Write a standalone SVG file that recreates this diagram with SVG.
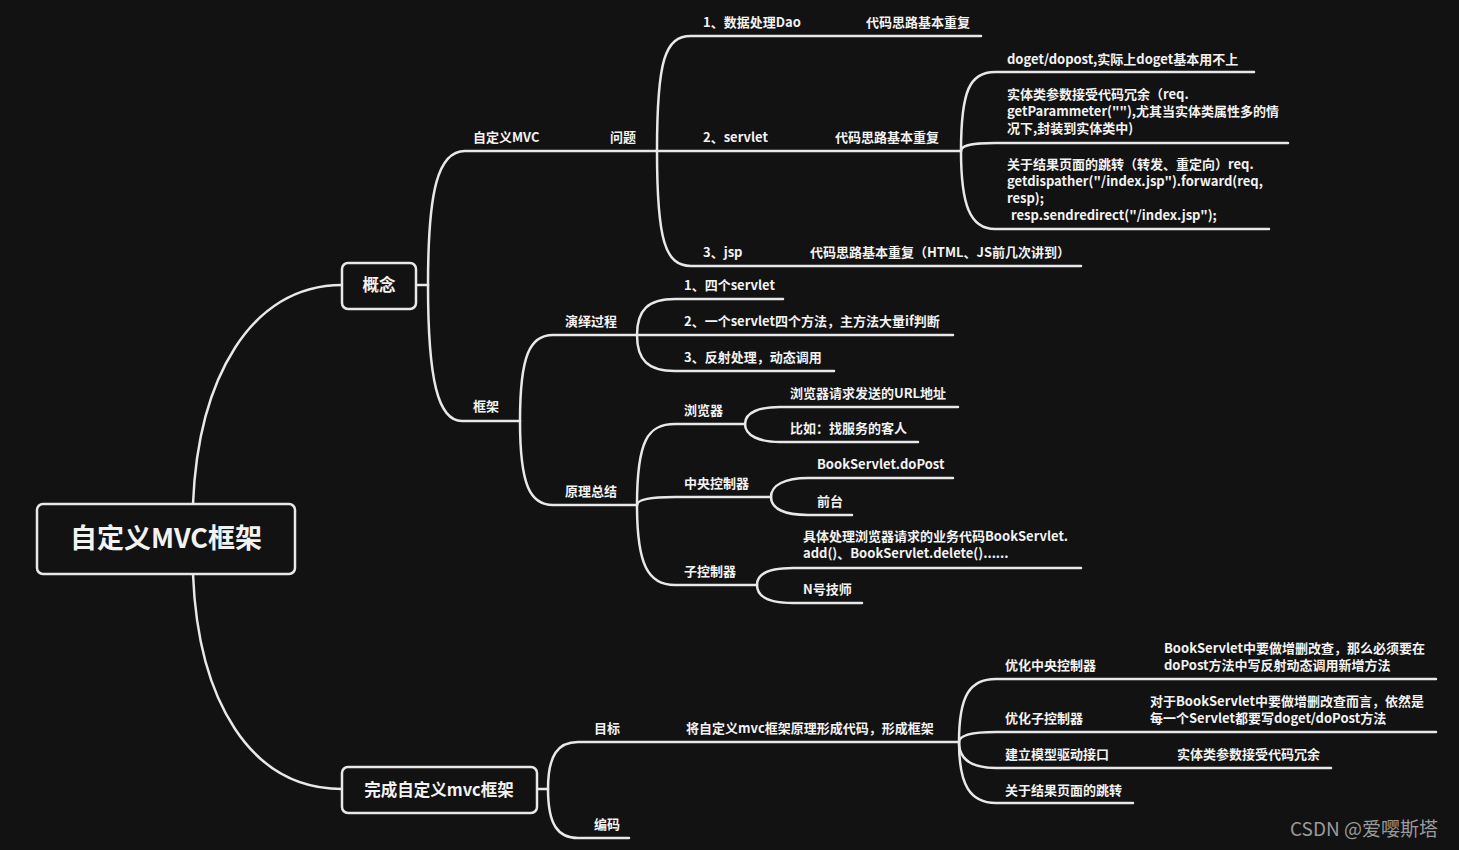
<svg xmlns="http://www.w3.org/2000/svg" width="1459" height="850" viewBox="0 0 1459 850">
<style>
.bg{fill:#121212}
.c{fill:none;stroke:#e8e8e8;stroke-width:2.5;stroke-linecap:round}
.box{fill:#121212;stroke:#e8e8e8;stroke-width:2.5}
text{font-family:"Noto Sans CJK SC","Noto Sans",sans-serif;fill:#f2f2f2;font-weight:bold;font-size:13px}
.root{font-size:27px}
.main{font-size:16.5px}
.wm{font-size:19px;font-weight:normal;fill:#9a9a9a}
</style>
<rect class="bg" x="0" y="0" width="1459" height="850"/>
<g id="connectors">
<path class="c" d="M193,504 C198,380 250,285 342,285"/>
<path class="c" d="M193,574 C198,700 250,789 342,789"/>
<path class="c" d="M416,285 L428,285"/>
<path class="c" d="M428,285 C428,190 438,151 465,151 L657,151"/>
<path class="c" d="M428,285 C428,380 438,421 462,421 L520,421"/>
<path class="c" d="M657,151 C657,60 665,36 691,36 L981,36"/>
<path class="c" d="M657,151 L961,151"/>
<path class="c" d="M657,151 C657,240 665,266 691,266 L1081,266"/>
<path class="c" d="M961,151 C961,90 970,72 995,72 L1254,72"/>
<path class="c" d="M961,151 C961,146 968,143 995,143 L1288,143"/>
<path class="c" d="M961,151 C961,205 970,229 995,229 L1269,229"/>
<path class="c" d="M520,421 C520,355 530,335 553,335 L637,335"/>
<path class="c" d="M520,421 C520,485 530,505 553,505 L637,505"/>
<path class="c" d="M637,335 C637,310 648,299 675,299 L783,299"/>
<path class="c" d="M637,335 L953,335"/>
<path class="c" d="M637,335 C637,360 648,371 675,371 L834,371"/>
<path class="c" d="M637,505 C637,440 648,424 675,424 L745,424"/>
<path class="c" d="M637,505 C637,500 648,497 675,497 L771,497"/>
<path class="c" d="M637,505 C637,565 648,585 675,585 L757,585"/>
<path class="c" d="M745,424 C745,412 760,407 780,407 L958,407"/>
<path class="c" d="M745,424 C745,436 760,442 780,442 L918,442"/>
<path class="c" d="M771,497 C771,485 785,478 808,478 L953,478"/>
<path class="c" d="M771,497 C771,509 785,515 808,515 L852,515"/>
<path class="c" d="M757,585 C757,573 770,568 793,568 L1081,568"/>
<path class="c" d="M757,585 C757,597 770,603 793,603 L862,603"/>
<path class="c" d="M537,789 L548,789"/>
<path class="c" d="M548,789 C548,755 558,742 578,742 L959,742"/>
<path class="c" d="M548,789 C548,825 558,838 578,838 L629,838"/>
<path class="c" d="M959,742 C959,695 970,679 996,679 L1436,679"/>
<path class="c" d="M959,742 C959,736 970,732 996,732 L1436,732"/>
<path class="c" d="M959,742 C959,758 970,768 996,768 L1331,768"/>
<path class="c" d="M959,742 C959,785 970,803 996,803 L1133,803"/>
</g>
<g id="n-root"><rect class="box" x="37" y="504" width="258" height="70" rx="6"/><text class="root" x="166" y="548" text-anchor="middle">自定义MVC框架</text></g>
<g id="n-gainian"><rect class="box" x="342" y="263" width="74" height="46" rx="6"/><text class="main" x="379" y="291" text-anchor="middle">概念</text></g>
<g id="n-wancheng"><rect class="box" x="342" y="767" width="195" height="46" rx="6"/><text class="main" x="439" y="796" text-anchor="middle">完成自定义mvc框架</text></g>
<g id="n-zdymvc"><text x="473" y="142">自定义MVC</text></g>
<g id="n-wenti"><text x="610" y="142">问题</text></g>
<g id="n-dao"><text x="703" y="27">1、数据处理Dao</text></g>
<g id="n-dao-c"><text x="866" y="27">代码思路基本重复</text></g>
<g id="n-servlet"><text x="703" y="142">2、servlet</text></g>
<g id="n-servlet-c"><text x="835" y="142">代码思路基本重复</text></g>
<g id="n-jsp"><text x="703" y="257">3、jsp</text></g>
<g id="n-jsp-c"><text x="810" y="257">代码思路基本重复（HTML、JS前几次讲到）</text></g>
<g id="n-doget"><text x="1007" y="64">doget/dopost,实际上doget基本用不上</text></g>
<g id="n-entity"><text x="1007" y="99">实体类参数接受代码冗余（req.</text><text x="1007" y="116">getParammeter(""),尤其当实体类属性多的情</text><text x="1007" y="133">况下,封装到实体类中)</text></g>
<g id="n-jump"><text x="1007" y="169">关于结果页面的跳转（转发、重定向）req.</text><text x="1007" y="186">getdispather("/index.jsp").forward(req,</text><text x="1007" y="203">resp);</text><text x="1011" y="220">resp.sendredirect("/index.jsp");</text></g>
<g id="n-kuangjia"><text x="473" y="411">框架</text></g>
<g id="n-yanyi"><text x="565" y="326">演绎过程</text></g>
<g id="n-yuanli"><text x="565" y="496">原理总结</text></g>
<g id="n-y1"><text x="684" y="290">1、四个servlet</text></g>
<g id="n-y2"><text x="684" y="326">2、一个servlet四个方法，主方法大量if判断</text></g>
<g id="n-y3"><text x="684" y="362">3、反射处理，动态调用</text></g>
<g id="n-browser"><text x="684" y="415">浏览器</text></g>
<g id="n-central"><text x="684" y="488">中央控制器</text></g>
<g id="n-sub"><text x="684" y="576">子控制器</text></g>
<g id="n-url"><text x="790" y="398">浏览器请求发送的URL地址</text></g>
<g id="n-guest"><text x="790" y="433">比如：找服务的客人</text></g>
<g id="n-dopost"><text x="817" y="469">BookServlet.doPost</text></g>
<g id="n-front"><text x="817" y="506">前台</text></g>
<g id="n-biz"><text x="803" y="541">具体处理浏览器请求的业务代码BookServlet.</text><text x="803" y="558">add()、BookServlet.delete()......</text></g>
<g id="n-tech"><text x="803" y="594">N号技师</text></g>
<g id="n-mubiao"><text x="594" y="733">目标</text></g>
<g id="n-mubiao-c"><text x="686" y="733">将自定义mvc框架原理形成代码，形成框架</text></g>
<g id="n-bianma"><text x="594" y="829">编码</text></g>
<g id="n-opt-central"><text x="1005" y="670">优化中央控制器</text></g>
<g id="n-opt-central-c"><text x="1164" y="653">BookServlet中要做增删改查，那么必须要在</text><text x="1164" y="670">doPost方法中写反射动态调用新增方法</text></g>
<g id="n-opt-sub"><text x="1005" y="723">优化子控制器</text></g>
<g id="n-opt-sub-c"><text x="1150" y="706">对于BookServlet中要做增删改查而言，依然是</text><text x="1150" y="723">每一个Servlet都要写doget/doPost方法</text></g>
<g id="n-model"><text x="1005" y="759">建立模型驱动接口</text></g>
<g id="n-model-c"><text x="1177" y="759">实体类参数接受代码冗余</text></g>
<g id="n-result"><text x="1005" y="795">关于结果页面的跳转</text></g>
<g id="watermark"><text class="wm" x="1290" y="836">CSDN @爱嘤斯塔</text></g>
</svg>
